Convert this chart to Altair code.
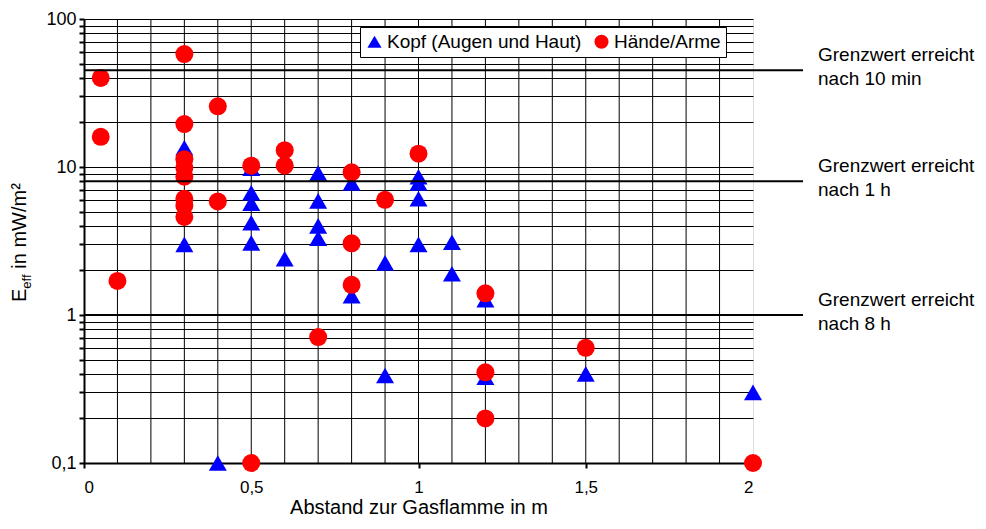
import altair as alt
import pandas as pd

# ---- data ----
series_names = ["Kopf (Augen und Haut)", "Hände/Arme"]

kopf_x = [0.3, 0.3, 0.4, 0.5, 0.5, 0.5, 0.5, 0.5, 0.6, 0.6, 0.7, 0.7, 0.7, 0.7,
          0.8, 0.8, 0.9, 0.9, 1.0, 1.0, 1.0, 1.0, 1.1, 1.1, 1.2, 1.2, 1.5, 2.0]
kopf_y = [13.5, 3.0, 0.1, 9.8, 6.7, 5.7, 4.2, 3.07, 11.5, 2.4, 9.1, 5.9, 4.0, 3.3,
          7.8, 1.35, 2.25, 0.39, 8.6, 7.8, 6.1, 3.0, 3.1, 1.9, 1.27, 0.38, 0.40, 0.30]

haende_x = [0.05, 0.05, 0.1, 0.3, 0.3, 0.3, 0.3, 0.3, 0.3, 0.3, 0.3, 0.4, 0.4, 0.5,
            0.5, 0.6, 0.6, 0.7, 0.8, 0.8, 0.8, 0.9, 1.0, 1.2, 1.2, 1.2, 1.5, 2.0]
haende_y = [40, 16, 1.7, 58, 19.5, 11.3, 9.9, 8.6, 6.1, 5.5, 4.6, 25.7, 5.85, 10.2,
            0.1, 13.0, 10.2, 0.71, 9.2, 3.05, 1.6, 6.0, 12.3, 1.4, 0.41, 0.2, 0.6, 0.1]

limit_values = [45, 8, 1]
limit_line1 = ["Grenzwert erreicht", "Grenzwert erreicht", "Grenzwert erreicht"]
limit_line2 = ["nach 10 min", "nach 1 h", "nach 8 h"]

x_label_values = [0, 0.5, 1, 1.5, 2]
x_grid_values = [round(0.1 * i, 1) for i in range(1, 20)]
y_tick_values = [round(k * 10 ** e, 3) for e in (-1, 0, 1) for k in range(1, 10)] + [100]

FONT = "Liberation Sans"

# ---- tables ----
points = pd.DataFrame({
    "x": kopf_x + haende_x,
    "y": kopf_y + haende_y,
    "serie": [series_names[0]] * len(kopf_x) + [series_names[1]] * len(haende_x),
})
limits = pd.DataFrame({"y": limit_values, "l1": limit_line1, "l2": limit_line2})
vgrid = pd.DataFrame({"x": x_grid_values})

x_scale = alt.Scale(domain=[0, 2], nice=False, zero=False)
y_scale = alt.Scale(type="log", domain=[0.1, 100], nice=False)

x_axis = alt.Axis(
    values=x_label_values, grid=False, title="Abstand zur Gasflamme in m",
    labelExpr="replace(format(datum.value, '~g'), '.', ',')",
    labelFont=FONT, labelFontSize=17, labelColor="#000", labelPadding=11,
    tickSize=5, tickColor="#000", tickWidth=2,
    domainColor="#000", domainWidth=2,
    titleFont=FONT, titleFontSize=20, titleFontWeight="normal", titleColor="#000",
    titlePadding=2,
)
y_axis = alt.Axis(
    values=y_tick_values, grid=True, gridColor="#000", gridWidth=1, gridOpacity=1,
    title=None,
    labelExpr="datum.value == 0.1 ? '0,1' : (datum.value == 1 || datum.value == 10 || datum.value == 100) ? format(datum.value, 'd') : ''",
    labelFont=FONT, labelFontSize=18, labelColor="#000", labelPadding=3,
    tickSize=5, tickColor="#000", tickWidth=2,
    domainColor="#000", domainWidth=2,
)

X = lambda: alt.X("x:Q", scale=x_scale, axis=x_axis)
Y = lambda: alt.Y("y:Q", scale=y_scale, axis=y_axis)

grid_layer = alt.Chart(vgrid).mark_rule(color="#000", strokeWidth=1).encode(x=X())

legend = alt.Legend(
    orient="none", legendX=276, legendY=8, direction="horizontal", title=None,
    fillColor="white", strokeColor="#000", padding=5, cornerRadius=0,
    labelFont=FONT, labelFontSize=19, labelColor="#000", labelOffset=3, labelLimit=0,
    symbolSize=200, symbolStrokeWidth=0, columnPadding=10,
)

point_layer = alt.Chart(points).mark_point(filled=True, size=324, opacity=1, strokeWidth=0, clip=False).encode(
    x=X(), y=Y(),
    color=alt.Color("serie:N", scale=alt.Scale(domain=series_names, range=["#0000FF", "#FF0000"]), legend=legend),
    shape=alt.Shape("serie:N", scale=alt.Scale(domain=series_names, range=["triangle-up", "circle"]), legend=legend),
)

limit_rules = alt.Chart(limits).mark_rule(color="#000", strokeWidth=2, clip=False).encode(
    y=Y(), x=alt.value(0), x2=alt.value(719)
)
limit_text1 = alt.Chart(limits).mark_text(
    align="left", baseline="middle", font=FONT, fontSize=19, color="#000", dy=-15, clip=False
).encode(y=Y(), x=alt.value(734), text="l1:N")
limit_text2 = alt.Chart(limits).mark_text(
    align="left", baseline="middle", font=FONT, fontSize=19, color="#000", dy=9, clip=False
).encode(y=Y(), x=alt.value(734), text="l2:N")

# y axis title with subscript, built from rotated text pieces
t_main = alt.Chart(pd.DataFrame({"t": ["E"]})).mark_text(
    angle=270, align="left", baseline="alphabetic", font=FONT, fontSize=20, color="#000"
).encode(text="t:N", x=alt.value(-58), y=alt.value(283))
t_sub = alt.Chart(pd.DataFrame({"t": ["eff"]})).mark_text(
    angle=270, align="left", baseline="alphabetic", font=FONT, fontSize=13, color="#000"
).encode(text="t:N", x=alt.value(-53), y=alt.value(269.7))
t_rest = alt.Chart(pd.DataFrame({"t": ["in mW/m²"]})).mark_text(
    angle=270, align="left", baseline="alphabetic", font=FONT, fontSize=20, color="#000"
).encode(text="t:N", x=alt.value(-58), y=alt.value(249.7))

chart = alt.layer(
    grid_layer, point_layer, limit_rules, limit_text1, limit_text2, t_main, t_sub, t_rest
).properties(
    width=669, height=444,
    autosize=alt.AutoSizeParams(type="none"),
    padding={"left": 76, "top": 11, "right": 225, "bottom": 58},
).configure_view(stroke="#808080", strokeWidth=1).configure(background="white")

chart.save("out.html", embed_options={"renderer": "svg", "actions": False})
